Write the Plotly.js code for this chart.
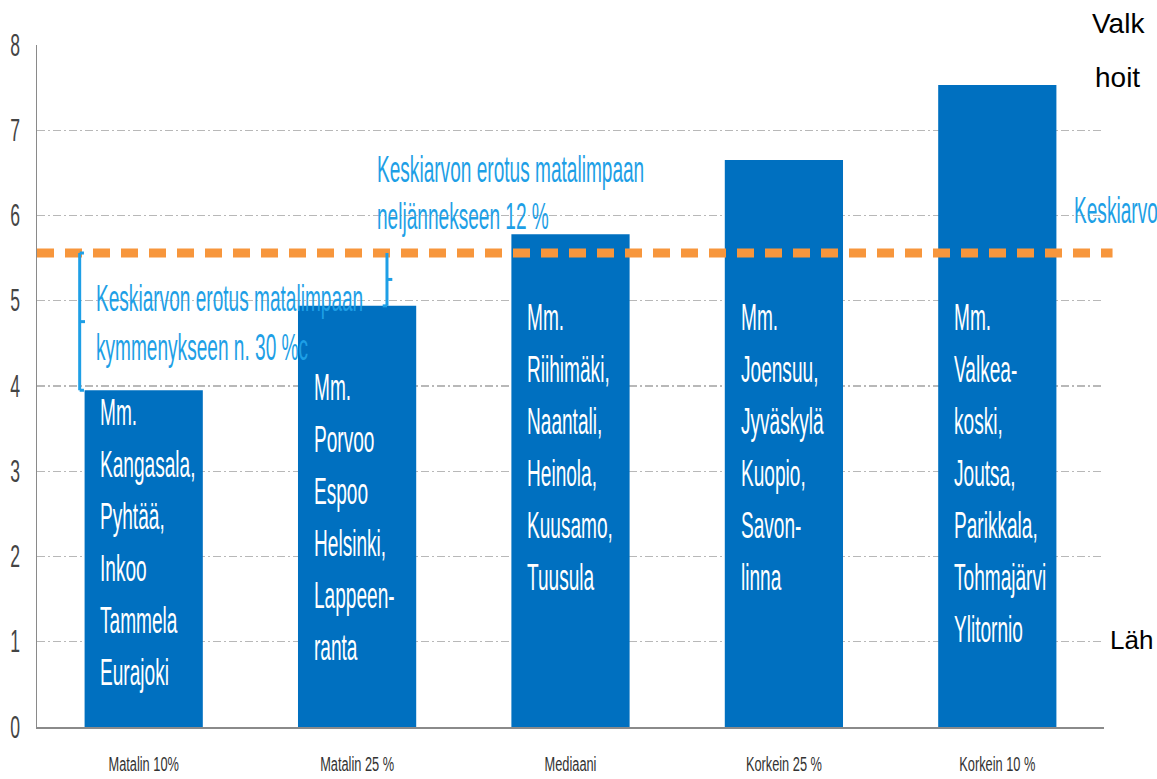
<!DOCTYPE html>
<html>
<head>
<meta charset="utf-8">
<script src="https://cdn.plot.ly/plotly-3.0.1.min.js"></script>
<style>
  html, body { margin: 0; padding: 0; background: #ffffff; }
  #chart { width: 1157px; height: 779px; }
</style>
</head>
<body>
<div id="chart"></div>
<script>
// ---------- data ----------
const categories = ['Matalin 10%', 'Matalin 25 %', 'Mediaani', 'Korkein 25 %', 'Korkein 10 %'];
const values = [3.95, 4.94, 5.78, 6.65, 7.53];
const meanValue = 5.56;
const yTicks = [0, 1, 2, 3, 4, 5, 6, 7, 8];

const barLabels0 = ['Mm.', 'Kangasala,', 'Pyhtää,', 'Inkoo', 'Tammela', 'Eurajoki'];
const barLabels1 = ['Mm.', 'Porvoo', 'Espoo', 'Helsinki,', 'Lappeen-', 'ranta'];
const barLabels2 = ['Mm.', 'Riihimäki,', 'Naantali,', 'Heinola,', 'Kuusamo,', 'Tuusula'];
const barLabels3 = ['Mm.', 'Joensuu,', 'Jyväskylä', 'Kuopio,', 'Savon-', 'linna'];
const barLabels4 = ['Mm.', 'Valkea-', 'koski,', 'Joutsa,', 'Parikkala,', 'Tohmajärvi', 'Ylitornio'];

const noteLowTenth = ['Keskiarvon erotus matalimpaan', 'kymmenykseen n. 30 %c'];
const noteLowQuarter = ['Keskiarvon erotus matalimpaan', 'neljännekseen 12 %'];
const meanLabel = 'Keskiarvo';
const slideText = ['Valk', 'hoit', 'Läh'];

// ---------- style / layout constants ----------
const SANS = '"Liberation Sans", Arial, sans-serif';
const BAR_COLOR = '#0070C0';
const NOTE_COLOR = '#1E9FE6';
const MEAN_COLOR = '#F7963C';
const GRID_COLOR = '#b8b8b8';
const SX = 0.83, SY = 1.6;   // condensed, tall lettering of the original

const allBarLabels = [barLabels0, barLabels1, barLabels2, barLabels3, barLabels4];
const labelFirstY = [3.70, 3.99, 4.81, 4.81, 4.81];
const labelStep = 0.61;
const labelDx = -0.212;

const annotations = [];
const stretchFlags = [];

function addNarrow(a) { annotations.push(a); stretchFlags.push(true); }
function addPlain(a) { annotations.push(a); stretchFlags.push(false); }

allBarLabels.forEach((lines, i) => {
  lines.forEach((t, k) => {
    addNarrow({
      x: i + labelDx, y: labelFirstY[i] - k * labelStep, xref: 'x', yref: 'y',
      text: t, showarrow: false, xanchor: 'left', yanchor: 'middle', align: 'left',
      font: { family: SANS, size: 23, color: '#ffffff' }
    });
  });
});

noteLowTenth.forEach((t, k) => {
  addNarrow({
    x: -0.235, y: 5.03 - k * 0.57, xref: 'x', yref: 'y',
    text: t, showarrow: false, xanchor: 'left', yanchor: 'middle', align: 'left',
    font: { family: SANS, size: 23, color: NOTE_COLOR }
  });
});
noteLowQuarter.forEach((t, k) => {
  addNarrow({
    x: 1.082, y: 6.55 - k * 0.55, xref: 'x', yref: 'y',
    text: t, showarrow: false, xanchor: 'left', yanchor: 'middle', align: 'left',
    font: { family: SANS, size: 23, color: NOTE_COLOR }
  });
});
addNarrow({
  x: 4.352, y: 6.06, xref: 'x', yref: 'y',
  text: meanLabel, showarrow: false, xanchor: 'left', yanchor: 'middle',
  font: { family: SANS, size: 23, color: NOTE_COLOR }
});

const slidePos = [[0.987, 1.031], [0.990, 0.953], [1.004, 0.128]];
slideText.forEach((t, k) => {
  addPlain({
    x: slidePos[k][0], y: slidePos[k][1], xref: 'paper', yref: 'paper',
    text: t, showarrow: false, xanchor: 'left', yanchor: 'middle',
    font: { family: SANS, size: k === 2 ? 26 : 28, color: '#000000' }
  });
});

// brackets + mean line
const bl = { color: NOTE_COLOR, width: 3 };
function bracket(x, yTop, yBot, hookTop, hookBot, nub) {
  const mid = (yTop + yBot) / 2;
  return [
    { type: 'line', xref: 'x', yref: 'y', x0: x, x1: x, y0: yTop, y1: yBot, line: bl, layer: 'above' },
    { type: 'line', xref: 'x', yref: 'y', x0: x, x1: x + hookTop, y0: yTop, y1: yTop, line: bl, layer: 'above' },
    { type: 'line', xref: 'x', yref: 'y', x0: x, x1: x + hookBot, y0: yBot, y1: yBot, line: bl, layer: 'above' },
    { type: 'line', xref: 'x', yref: 'y', x0: x, x1: x + nub, y0: mid, y1: mid, line: bl, layer: 'above' }
  ];
}

const shapes = [
  { type: 'line', xref: 'paper', yref: 'y', x0: 0, x1: 1.008, y0: meanValue, y1: meanValue,
    line: { color: MEAN_COLOR, width: 9, dash: '17px,11px' }, layer: 'above' },
  ...bracket(-0.30, meanValue, values[0], 0.02, 0.02, 0.025),
  ...bracket(1.14, meanValue, values[1], 0.0, -0.02, 0.025)
];

const trace = {
  type: 'bar',
  x: categories,
  y: values,
  marker: { color: BAR_COLOR, line: { width: 0 } },
  hoverinfo: 'skip'
};

const layout = {
  width: 1157, height: 779,
  margin: { l: 37, r: 53, t: 45, b: 52, pad: 0 },
  paper_bgcolor: '#ffffff', plot_bgcolor: '#ffffff',
  showlegend: false,
  bargap: 0.446,
  xaxis: {
    type: 'category',
    range: [-0.5, 4.5],
    showline: true, linecolor: '#8a8a8a', linewidth: 1.5,
    showgrid: false, ticks: '', zeroline: false,
    ticklabelstandoff: 22,
    tickfont: { family: SANS, size: 16, color: '#333333' }
  },
  yaxis: {
    range: [0, 8],
    tickvals: yTicks,
    ticktext: yTicks.map(String),
    showline: true, linecolor: '#8a8a8a', linewidth: 1.5,
    showgrid: true, gridcolor: GRID_COLOR, gridwidth: 1.3, griddash: '8px,3px,2px,3px',
    zeroline: false, ticks: '',
    ticklabelstandoff: 11,
    tickfont: { family: SANS, size: 22, color: '#444444' }
  },
  shapes: shapes,
  annotations: annotations
};

// condense horizontally and stretch vertically, keeping the text as real text
function reshape(el, sx, sy, anchor) {
  const b = el.getBBox();
  const ox = anchor === 'left' ? b.x : anchor === 'right' ? b.x + b.width : b.x + b.width / 2;
  const oy = b.y + b.height / 2;
  const prev = el.getAttribute('transform') || '';
  el.setAttribute('transform', prev + ' translate(' + ox + ',' + oy + ') scale(' + sx + ',' + sy + ') translate(' + (-ox) + ',' + (-oy) + ')');
}

const gd = document.getElementById('chart');
Plotly.newPlot(gd, [trace], layout, { staticPlot: true, displayModeBar: false }).then(() => {
  gd.querySelectorAll('g.annotation').forEach(g => {
    const idx = +g.getAttribute('data-index');
    if (stretchFlags[idx]) {
      const t = g.querySelector('text.annotation-text');
      if (t) reshape(t, SX, SY, 'left');
    }
  });
  gd.querySelectorAll('.xtick text').forEach(t => reshape(t, 0.8, 1.3, 'center'));
  gd.querySelectorAll('.ytick text').forEach(t => reshape(t, 0.8, 1.4, 'right'));
});
</script>
</body>
</html>
